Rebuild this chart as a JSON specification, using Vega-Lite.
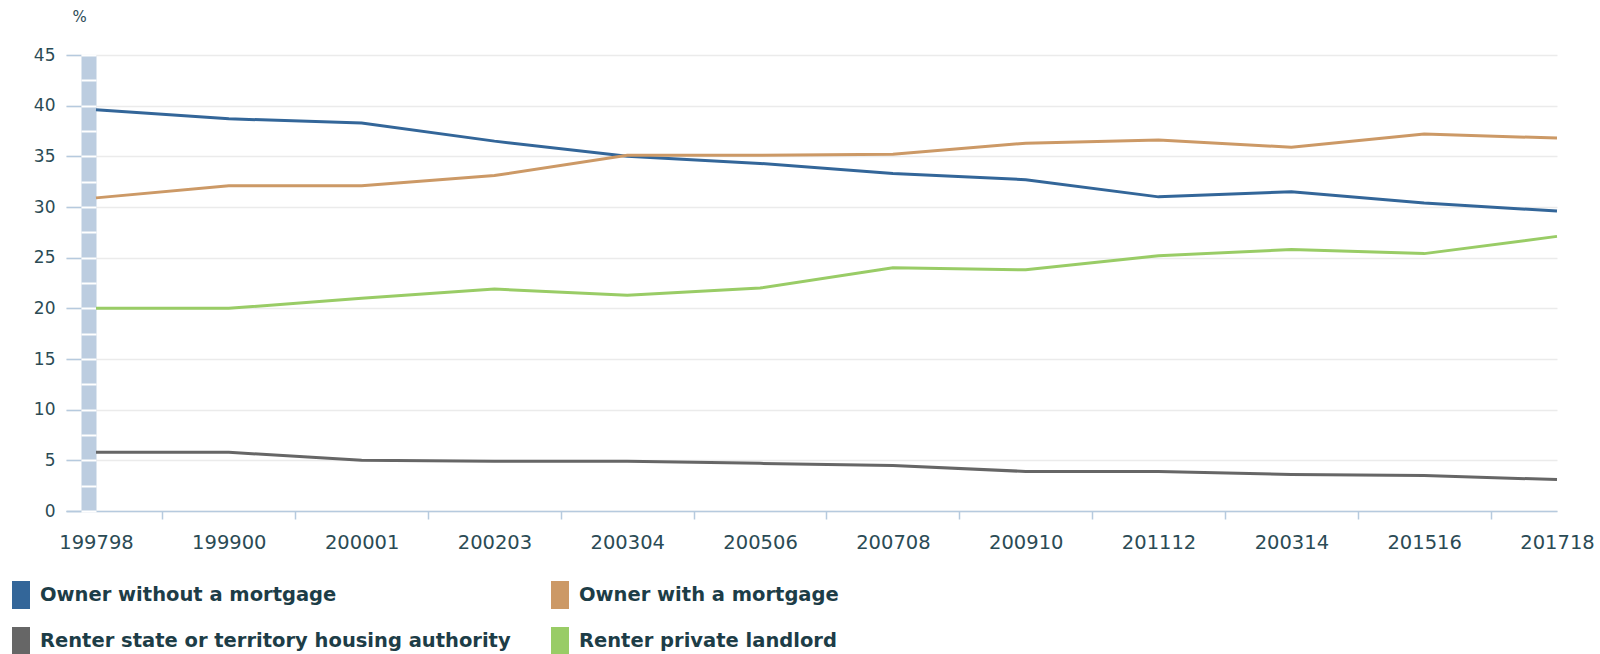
{
  "$schema": "https://vega.github.io/schema/vega-lite/v6.json",
  "autosize": {"type": "none"},
  "padding": {"left": 66, "top": 55, "right": 43, "bottom": 143},
  "width": 1491,
  "height": 456,
  "background": "white",
  "config": {
    "view": {"stroke": null},
    "font": "DejaVu Sans"
  },
  "data": {
    "values": [
      {"year": "199798", "series": "Owner without a mortgage", "value": 39.6},
      {"year": "199900", "series": "Owner without a mortgage", "value": 38.7},
      {"year": "200001", "series": "Owner without a mortgage", "value": 38.3},
      {"year": "200203", "series": "Owner without a mortgage", "value": 36.5},
      {"year": "200304", "series": "Owner without a mortgage", "value": 35.0},
      {"year": "200506", "series": "Owner without a mortgage", "value": 34.3},
      {"year": "200708", "series": "Owner without a mortgage", "value": 33.3},
      {"year": "200910", "series": "Owner without a mortgage", "value": 32.7},
      {"year": "201112", "series": "Owner without a mortgage", "value": 31.0},
      {"year": "200314", "series": "Owner without a mortgage", "value": 31.5},
      {"year": "201516", "series": "Owner without a mortgage", "value": 30.4},
      {"year": "201718", "series": "Owner without a mortgage", "value": 29.6},
      {"year": "199798", "series": "Owner with a mortgage", "value": 30.9},
      {"year": "199900", "series": "Owner with a mortgage", "value": 32.1},
      {"year": "200001", "series": "Owner with a mortgage", "value": 32.1},
      {"year": "200203", "series": "Owner with a mortgage", "value": 33.1},
      {"year": "200304", "series": "Owner with a mortgage", "value": 35.1},
      {"year": "200506", "series": "Owner with a mortgage", "value": 35.1},
      {"year": "200708", "series": "Owner with a mortgage", "value": 35.2},
      {"year": "200910", "series": "Owner with a mortgage", "value": 36.3},
      {"year": "201112", "series": "Owner with a mortgage", "value": 36.6},
      {"year": "200314", "series": "Owner with a mortgage", "value": 35.9},
      {"year": "201516", "series": "Owner with a mortgage", "value": 37.2},
      {"year": "201718", "series": "Owner with a mortgage", "value": 36.8},
      {"year": "199798", "series": "Renter  state or territory housing authority", "value": 5.8},
      {"year": "199900", "series": "Renter  state or territory housing authority", "value": 5.8},
      {"year": "200001", "series": "Renter  state or territory housing authority", "value": 5.0},
      {"year": "200203", "series": "Renter  state or territory housing authority", "value": 4.9},
      {"year": "200304", "series": "Renter  state or territory housing authority", "value": 4.9},
      {"year": "200506", "series": "Renter  state or territory housing authority", "value": 4.7},
      {"year": "200708", "series": "Renter  state or territory housing authority", "value": 4.5},
      {"year": "200910", "series": "Renter  state or territory housing authority", "value": 3.9},
      {"year": "201112", "series": "Renter  state or territory housing authority", "value": 3.9},
      {"year": "200314", "series": "Renter  state or territory housing authority", "value": 3.6},
      {"year": "201516", "series": "Renter  state or territory housing authority", "value": 3.5},
      {"year": "201718", "series": "Renter  state or territory housing authority", "value": 3.1},
      {"year": "199798", "series": "Renter  private landlord", "value": 20.0},
      {"year": "199900", "series": "Renter  private landlord", "value": 20.0},
      {"year": "200001", "series": "Renter  private landlord", "value": 21.0},
      {"year": "200203", "series": "Renter  private landlord", "value": 21.9},
      {"year": "200304", "series": "Renter  private landlord", "value": 21.3},
      {"year": "200506", "series": "Renter  private landlord", "value": 22.0},
      {"year": "200708", "series": "Renter  private landlord", "value": 24.0},
      {"year": "200910", "series": "Renter  private landlord", "value": 23.8},
      {"year": "201112", "series": "Renter  private landlord", "value": 25.2},
      {"year": "200314", "series": "Renter  private landlord", "value": 25.8},
      {"year": "201516", "series": "Renter  private landlord", "value": 25.4},
      {"year": "201718", "series": "Renter  private landlord", "value": 27.1}
    ]
  },
  "encoding": {
    "x": {
      "field": "year",
      "type": "ordinal",
      "sort": null,
      "scale": {"type": "point", "padding": 0.1129, "align": 1},
      "axis": {
        "title": null,
        "labelAngle": 0,
        "labelFont": "DejaVu Sans",
        "labelFontSize": 19.5,
        "labelColor": "#2b4b55",
        "labelPadding": 14,
        "labelOffset": -66.4,
        "domainColor": "#b6cade",
        "domainWidth": 1.5,
        "tickColor": "#b6cade",
        "tickWidth": 1.5,
        "tickSize": 8,
        "tickOffset": 66.4,
        "tickOpacity": {"condition": {"test": "datum.value === '201718'", "value": 0}, "value": 1},
        "grid": false,
        "zindex": 0
      }
    }
  },
  "resolve": {"scale": {"y": "shared"}, "axis": {"y": "independent"}},
  "layer": [
    {
      "mark": {"type": "point", "opacity": 0},
      "encoding": {
        "y": {
          "field": "value",
          "type": "quantitative",
          "scale": {"domain": [0, 45], "nice": false, "zero": true},
          "axis": {
            "orient": "left",
            "offset": -22.5,
            "title": null,
            "labels": false,
            "ticks": false,
            "grid": false,
            "domain": true,
            "domainColor": "#bccde0",
            "domainWidth": 15,
            "zindex": 0
          }
        }
      }
    },
    {
      "mark": {"type": "line", "strokeWidth": 3, "interpolate": "linear"},
      "encoding": {
        "y": {
          "field": "value",
          "type": "quantitative",
          "scale": {"domain": [0, 45], "nice": false, "zero": true},
          "axis": {
            "orient": "left",
            "offset": -15,
            "values": [0, 5, 10, 15, 20, 25, 30, 35, 40, 45],
            "title": "%",
            "titleAngle": 0,
            "titleAlign": "left",
            "titleBaseline": "alphabetic",
            "titleX": -9,
            "titleY": -34,
            "titleFont": "DejaVu Sans",
            "titleFontSize": 15,
            "titleFontWeight": "normal",
            "titleColor": "#2b4b55",
            "labelFont": "DejaVu Sans",
            "labelFontSize": 17,
            "labelColor": "#2b4b55",
            "labelPadding": 11,
            "domain": false,
            "ticks": true,
            "tickColor": "#b6cade",
            "tickWidth": 1.5,
            "tickSize": 15,
            "grid": true,
            "gridColor": "#ebebeb",
            "gridWidth": 1.5,
            "zindex": 0
          }
        },
        "color": {
          "field": "series",
          "type": "nominal",
          "scale": {
            "domain": ["Owner without a mortgage", "Owner with a mortgage", "Renter  state or territory housing authority", "Renter  private landlord"],
            "range": ["#336699", "#cc9966", "#666666", "#99cc66"]
          },
          "legend": {
            "title": null,
            "orient": "none",
            "legendX": -59,
            "legendY": 526,
            "direction": "horizontal",
            "columns": 2,
            "gridAlign": "all",
            "padding": 0,
            "symbolType": "M-0.643,-1H0.643V1H-0.643Z",
            "symbolSize": 784,
            "symbolStrokeWidth": 0,
            "symbolOpacity": 1,
            "labelFont": "DejaVu Sans",
            "labelFontSize": 19.5,
            "labelFontWeight": "bold",
            "labelColor": "#1d3d47",
            "labelOffset": 5,
            "labelLimit": 0,
            "rowPadding": 18,
            "columnPadding": 28,
            "encode": {
              "symbols": {
                "update": {
                  "fill": {"scale": "color", "field": "value"},
                  "fillOpacity": {"value": 1},
                  "strokeWidth": {"value": 0}
                }
              }
            }
          }
        }
      }
    },
    {
      "mark": {"type": "point", "opacity": 0},
      "encoding": {
        "y": {
          "field": "value",
          "type": "quantitative",
          "scale": {"domain": [0, 45], "nice": false, "zero": true},
          "axis": {
            "orient": "left",
            "offset": -30,
            "values": [0, 2.5, 5, 7.5, 10, 12.5, 15, 17.5, 20, 22.5, 25, 27.5, 30, 32.5, 35, 37.5, 40, 42.5, 45],
            "title": null,
            "labels": false,
            "domain": false,
            "grid": false,
            "ticks": true,
            "tickColor": "white",
            "tickWidth": 2,
            "tickSize": 15,
            "zindex": 0
          }
        }
      }
    }
  ]
}
